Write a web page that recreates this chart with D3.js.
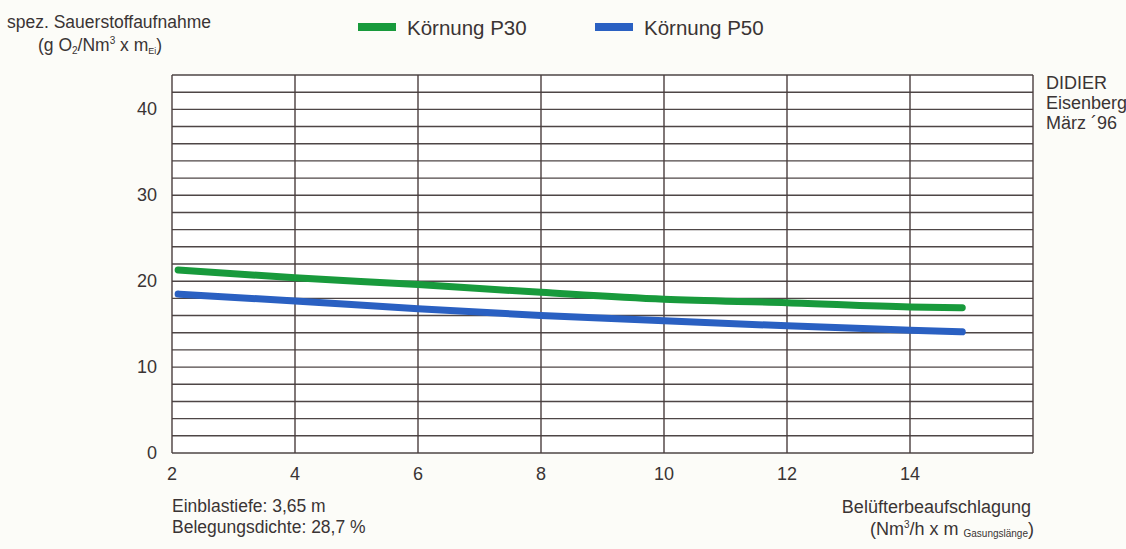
<!DOCTYPE html>
<html lang="de">
<head>
    <meta charset="UTF-8">
    <title>Sauerstoffaufnahme</title>
    <script src="https://d3js.org/d3.v7.min.js"></script>
    <style>
        body { margin: 0; background: #fcfcf8; }
        text { font-family: "Liberation Sans", Arial, sans-serif; fill: #3a3434; }
    </style>
</head>
<body>
    <svg id="chart" width="1126" height="549"></svg>
    <script>
        // Belüfterbeaufschlagung (x) und spez. Sauerstoffaufnahme (y)
        const xValues = [2.1, 4, 6, 8, 10, 12, 14, 14.85];
        const p30 = [21.3, 20.4, 19.6, 18.7, 17.9, 17.5, 17.0, 16.9];
        const p50 = [18.5, 17.7, 16.8, 16.0, 15.4, 14.8, 14.3, 14.1];
        const seriesNames = ["Körnung P30", "Körnung P50"];
        const seriesColors = ["#189a3c", "#2a60c2"];
        const xTicks = [2, 4, 6, 8, 10, 12, 14];
        const yTicks = [0, 10, 20, 30, 40];

        const svg = d3.select("#chart");
        const mLeft = 172, mRight = 1033, mTop = 75, mBottom = 453;

        const x = d3.scaleLinear().domain([2, 16]).range([mLeft, mRight]);
        const y = d3.scaleLinear().domain([0, 44]).range([mBottom, mTop]);

        svg.append("rect")
            .attr("x", mLeft).attr("y", mTop)
            .attr("width", mRight - mLeft).attr("height", mBottom - mTop)
            .attr("fill", "#ffffff");

        // horizontale Rasterlinien alle 2 Einheiten
        svg.append("g")
            .selectAll("line")
            .data(d3.range(0, 45, 2))
            .enter().append("line")
                .attr("x1", mLeft).attr("x2", mRight)
                .attr("y1", d => y(d)).attr("y2", d => y(d))
                .attr("stroke", "#4e4646")
                .attr("stroke-width", 1.4);

        // vertikale Rasterlinien
        svg.append("g")
            .selectAll("line")
            .data(d3.range(2, 17, 2))
            .enter().append("line")
                .attr("x1", d => x(d)).attr("x2", d => x(d))
                .attr("y1", mTop).attr("y2", mBottom)
                .attr("stroke", "#4a3e3e")
                .attr("stroke-width", 1.4);

        // Achsenbeschriftung
        svg.append("g")
            .selectAll("text")
            .data(yTicks)
            .enter().append("text")
                .attr("x", 157)
                .attr("y", d => y(d) + 6)
                .attr("text-anchor", "end")
                .style("font-size", "18px")
                .text(d => d);

        svg.append("g")
            .selectAll("text")
            .data(xTicks)
            .enter().append("text")
                .attr("x", d => x(d))
                .attr("y", 480)
                .attr("text-anchor", "middle")
                .style("font-size", "18px")
                .text(d => d);

        // Kurven
        const line = d3.line()
            .x((d, i) => x(xValues[i]))
            .y(d => y(d))
            .curve(d3.curveMonotoneX);

        [p30, p50].forEach((vals, k) => {
            svg.append("path")
                .datum(vals)
                .attr("d", line)
                .attr("fill", "none")
                .attr("stroke", seriesColors[k])
                .attr("stroke-width", 7)
                .attr("stroke-linecap", "round");
        });

        // Legende
        const legendX = [358, 595];
        seriesNames.forEach((name, k) => {
            svg.append("rect")
                .attr("x", legendX[k]).attr("y", 23)
                .attr("width", 38).attr("height", 8)
                .attr("fill", seriesColors[k]);
            svg.append("text")
                .attr("x", legendX[k] + 49).attr("y", 35)
                .style("font-size", "20.5px")
                .text(name);
        });

        // y-Achsentitel
        svg.append("text")
            .attr("x", 7).attr("y", 28)
            .style("font-size", "17.5px")
            .text("spez. Sauerstoffaufnahme");
        const yt = svg.append("text")
            .attr("x", 38).attr("y", 51)
            .style("font-size", "17.5px");
        yt.append("tspan").text("(g O");
        yt.append("tspan").attr("dy", 3).style("font-size", "10px").text("2");
        yt.append("tspan").attr("dy", -3).text("/Nm");
        yt.append("tspan").attr("dy", -7).style("font-size", "10px").text("3");
        yt.append("tspan").attr("dy", 7).text(" x m");
        yt.append("tspan").attr("dy", 3).style("font-size", "9px").text("Ei");
        yt.append("tspan").attr("dy", -3).text(")");

        // Quelle
        ["DIDIER", "Eisenberg", "März ´96"].forEach((t, i) => {
            svg.append("text")
                .attr("x", 1046).attr("y", 89 + i * 20)
                .style("font-size", "18px")
                .text(t);
        });

        // Randnotizen unten
        ["Einblastiefe: 3,65 m", "Belegungsdichte: 28,7 %"].forEach((t, i) => {
            svg.append("text")
                .attr("x", 172).attr("y", 512 + i * 21)
                .style("font-size", "17.5px")
                .text(t);
        });

        svg.append("text")
            .attr("x", 1031).attr("y", 513)
            .attr("text-anchor", "end")
            .style("font-size", "18px")
            .text("Belüfterbeaufschlagung");
        const xt = svg.append("text")
            .attr("x", 1034).attr("y", 535)
            .attr("text-anchor", "end")
            .style("font-size", "18px");
        xt.append("tspan").text("(Nm");
        xt.append("tspan").attr("dy", -7).style("font-size", "10px").text("3");
        xt.append("tspan").attr("dy", 7).text("/h x m ");
        xt.append("tspan").attr("dy", 2).style("font-size", "10px").text("Gasungslänge");
        xt.append("tspan").attr("dy", -2).text(")");
    </script>
</body>
</html>
